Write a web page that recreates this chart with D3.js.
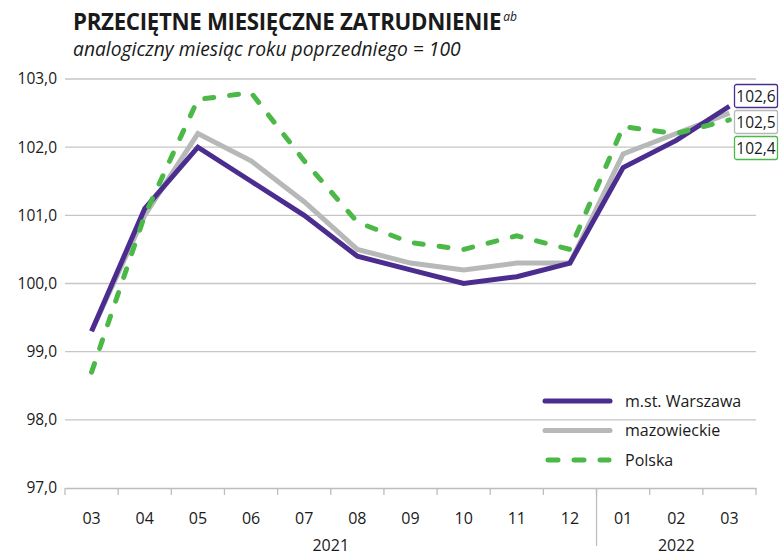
<!DOCTYPE html>
<html>
<head>
<meta charset="utf-8">
<script src="https://cdn.jsdelivr.net/npm/d3@7"></script>
<style>
  body { margin: 0; background: #fff; }
  svg text { font-family: "Open Sans", "Noto Sans", sans-serif; fill: #1a1a1a; }
</style>
</head>
<body>
<script>
// data
const months = ["03", "04", "05", "06", "07", "08", "09", "10", "11", "12", "01", "02", "03"];
const years = [{ label: "2021", from: 0, to: 9 }, { label: "2022", from: 10, to: 12 }];
const warszawa = [99.3, 101.1, 102.0, 101.5, 101.0, 100.4, 100.2, 100.0, 100.1, 100.3, 101.7, 102.1, 102.6];
const mazowieckie = [99.3, 101.0, 102.2, 101.8, 101.2, 100.5, 100.3, 100.2, 100.3, 100.3, 101.9, 102.2, 102.5];
const polska = [98.7, 101.0, 102.7, 102.8, 101.8, 100.9, 100.6, 100.5, 100.7, 100.5, 102.3, 102.2, 102.4];
const yTicks = [97, 98, 99, 100, 101, 102, 103];

const series = [
  { name: "mazowieckie", values: mazowieckie, color: "#b7b9b9", dash: null },
  { name: "m.st. Warszawa", values: warszawa, color: "#4b2d90", dash: null },
  { name: "Polska", values: polska, color: "#4cb848", dash: "9,16" }
];
const legendOrder = ["m.st. Warszawa", "mazowieckie", "Polska"];

const width = 780, height = 555;
const margin = { top: 79, right: 24, bottom: 67, left: 65 };

const svg = d3.select("body").append("svg")
  .attr("width", width)
  .attr("height", height);

const x = d3.scaleBand()
  .domain(d3.range(months.length))
  .range([margin.left, width - margin.right]);

const y = d3.scaleLinear()
  .domain([97, 103])
  .range([height - margin.bottom, margin.top]);

const fmt = v => d3.format(".1f")(v).replace(".", ",");

// fit a text's font size so it spans a given width
function fitText(sel, base, target) {
  sel.style("font-size", base + "px");
  const w = sel.node().getComputedTextLength();
  sel.style("font-size", (base * target / w) + "px");
  return sel.node().getComputedTextLength();
}

// title
const title = svg.append("text")
  .attr("x", 73).attr("y", 30)
  .style("font-weight", "bold")
  .style("letter-spacing", "-0.3px")
  .text("PRZECIĘTNE MIESIĘCZNE ZATRUDNIENIE");
const tw = fitText(title, 21, 428);
svg.append("text")
  .attr("x", 73 + tw + 2).attr("y", 21)
  .style("font-size", "12px").style("font-style", "italic")
  .text("ab");

const sub = svg.append("text")
  .attr("x", 73).attr("y", 56)
  .style("font-style", "italic")
  .text("analogiczny miesiąc roku poprzedniego = 100");
fitText(sub, 17, 388);

// gridlines
svg.append("g")
  .selectAll("line")
  .data(yTicks.slice(1))
  .join("line")
  .attr("x1", margin.left).attr("x2", width - margin.right)
  .attr("y1", d => y(d)).attr("y2", d => y(d))
  .attr("stroke", "#c6c6c6").attr("stroke-width", 1.3);

// y axis labels
svg.append("g")
  .selectAll("text")
  .data(yTicks)
  .join("text")
  .attr("x", 57).attr("y", d => y(d))
  .attr("dy", "0.35em")
  .attr("text-anchor", "end")
  .style("font-size", "15.5px")
  .text(fmt);

// x axis
const xAxis = svg.append("g")
  .attr("transform", `translate(0,${y(97)})`)
  .call(d3.axisBottom(x).tickSize(0).tickFormat(i => months[i]));
xAxis.select(".domain").attr("stroke", "#bdbdbd").attr("stroke-width", 1.3);
xAxis.selectAll(".tick text")
  .attr("dy", 0).attr("y", 36)
  .style("font-size", "16px").style("font-family", "\"Open Sans\", sans-serif").attr("fill", "#1a1a1a");

const bounds = d3.range(months.length + 1).map(i => i < months.length ? x(i) : x.range()[1]);
svg.append("g")
  .selectAll("line")
  .data(bounds)
  .join("line")
  .attr("x1", d => d).attr("x2", d => d)
  .attr("y1", y(97)).attr("y2", y(97) + 7)
  .attr("stroke", "#bdbdbd").attr("stroke-width", 1.3);

// year separator
svg.append("line")
  .attr("x1", x(10)).attr("x2", x(10))
  .attr("y1", y(97)).attr("y2", y(97) + 58)
  .attr("stroke", "#bdbdbd").attr("stroke-width", 1.3);

svg.append("g")
  .selectAll("text")
  .data(years)
  .join("text")
  .attr("x", d => (x(d.from) + x(d.to) + x.bandwidth()) / 2)
  .attr("y", 551)
  .attr("text-anchor", "middle")
  .style("font-size", "16px")
  .text(d => d.label);

// lines
const line = d3.line()
  .x((d, i) => x(i) + x.bandwidth() / 2)
  .y(d => y(d));

svg.append("g")
  .selectAll("path")
  .data(series)
  .join("path")
  .attr("d", d => line(d.values))
  .attr("fill", "none")
  .attr("stroke", d => d.color)
  .attr("stroke-width", 5)
  .attr("stroke-dasharray", d => d.dash)
  .attr("stroke-linecap", d => d.dash ? "round" : "butt")
  .attr("stroke-linejoin", "miter");

// end labels
const endBoxes = [
  { s: "m.st. Warszawa", top: 84 },
  { s: "mazowieckie", top: 110 },
  { s: "Polska", top: 136 }
];
const endG = svg.append("g")
  .selectAll("g")
  .data(endBoxes)
  .join("g")
  .attr("transform", d => `translate(734.5,${d.top + 0.5})`);
endG.append("rect")
  .attr("width", 43).attr("height", 23).attr("rx", 2)
  .attr("fill", "#fff")
  .attr("stroke", d => series.find(s => s.name === d.s).color)
  .attr("stroke-width", 1.3);
endG.append("text")
  .attr("x", 21.5).attr("y", 12).attr("dy", "0.35em")
  .attr("text-anchor", "middle")
  .style("font-size", "15.5px")
  .text(d => fmt(series.find(s => s.name === d.s).values.at(-1)));

// legend
const leg = svg.append("g")
  .selectAll("g")
  .data(legendOrder.map(n => series.find(s => s.name === n)))
  .join("g")
  .attr("transform", (d, i) => `translate(0,${401 + i * 29.5})`);
leg.append("line")
  .attr("x1", d => d.dash ? 548 : 545).attr("x2", d => d.dash ? 609 : 610)
  .attr("stroke", d => d.color)
  .attr("stroke-width", 5)
  .attr("stroke-linecap", "round")
  .attr("stroke-dasharray", d => d.dash ? "10,16" : null);
leg.append("text")
  .attr("x", 625).attr("dy", "0.35em")
  .style("font-size", "16px")
  .text(d => d.name);
</script>
</body>
</html>
